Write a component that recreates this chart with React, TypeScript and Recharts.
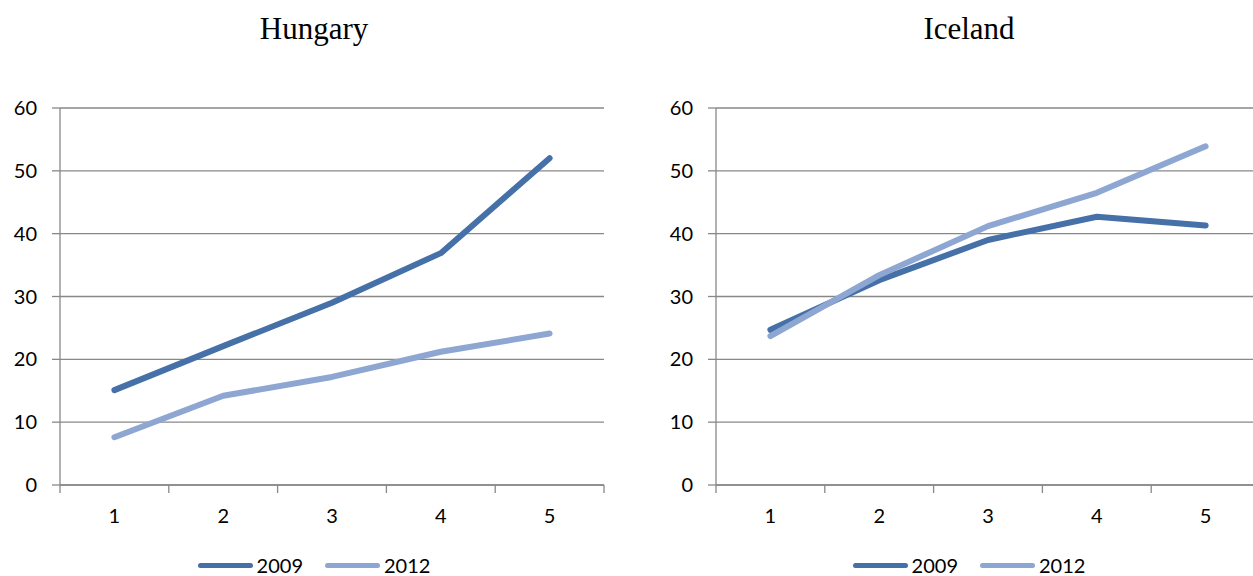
import React from "react";
import { LineChart, Line, XAxis, YAxis, CartesianGrid } from "recharts";

// survey points 1..5, values per country and year
const categories = [1, 2, 3, 4, 5];
const hungary2009 = [15.1, 22.1, 29.0, 36.9, 52.0];
const hungary2012 = [7.6, 14.2, 17.2, 21.2, 24.1];
const iceland2009 = [24.7, 32.6, 39.0, 42.7, 41.3];
const iceland2012 = [23.7, 33.4, 41.2, 46.5, 53.9];
const yTicks = [0, 10, 20, 30, 40, 50, 60];
// band edges carry the tick marks, band centres carry the labels
const xTicks = [0.5, 1, 1.5, 2, 2.5, 3, 3.5, 4, 4.5, 5, 5.5];

const DARK = "#4570A8";
const LIGHT = "#8DA7D2";
const GRID = "#888888";
const SANS = "Lato, 'Liberation Sans', sans-serif";

const series = [
  { key: "y2009", name: "2009", color: DARK },
  { key: "y2012", name: "2012", color: LIGHT },
];

function rows(a, b) {
  return categories.map((c, i) => ({ x: c, y2009: a[i], y2012: b[i] }));
}

function XTick(props) {
  const { x, y, payload } = props;
  if (Number.isInteger(payload.value)) {
    return (
      <text x={x} y={y + 38} textAnchor="middle" fill="#000" fontSize={20} fontFamily={SANS}>
        {payload.value}
      </text>
    );
  }
  return <line x1={x} x2={x} y1={y} y2={y + 8} stroke={GRID} strokeWidth={1.3} />;
}

function Panel({ title, data, left, titleX }) {
  return (
    <>
      <div
        style={{
          position: "absolute",
          left: titleX - 150,
          width: 300,
          top: 13,
          textAlign: "center",
          fontFamily: "'Liberation Serif', 'Times New Roman', serif",
          fontSize: 31,
          lineHeight: "31px",
          color: "#000",
        }}
      >
        {title}
      </div>
      <div style={{ position: "absolute", left, top: 0 }}>
        <LineChart width={630} height={576} data={data} margin={{ top: 108, right: 26, left: 0, bottom: 51 }}>
          <CartesianGrid vertical={false} stroke={GRID} strokeWidth={1.3} />
          <XAxis
            dataKey="x"
            type="number"
            domain={[0.5, 5.5]}
            ticks={xTicks}
            interval={0}
            tickLine={false}
            tickSize={0}
            tickMargin={0}
            height={40}
            axisLine={{ stroke: GRID, strokeWidth: 1.3 }}
            tick={<XTick />}
          />
          <YAxis
            domain={[0, 60]}
            ticks={yTicks}
            interval={0}
            width={60}
            tickSize={8}
            tickMargin={15}
            axisLine={{ stroke: GRID, strokeWidth: 1.3 }}
            tickLine={{ stroke: GRID, strokeWidth: 1.3 }}
            tick={{ fill: "#000", fontSize: 20, fontFamily: SANS }}
          />
          {series.map((s) => (
            <Line
              key={s.key}
              type="linear"
              dataKey={s.key}
              name={s.name}
              stroke={s.color}
              strokeWidth={6}
              strokeLinecap="round"
              strokeLinejoin="round"
              dot={false}
              isAnimationActive={false}
            />
          ))}
        </LineChart>
      </div>
      <div
        style={{
          position: "absolute",
          left: titleX - 200,
          width: 400,
          top: 555,
          display: "flex",
          justifyContent: "center",
          alignItems: "center",
          gap: 22,
          fontFamily: SANS,
          fontSize: 20,
          lineHeight: "20px",
        }}
      >
        {series.map((s) => (
          <div key={s.key} style={{ display: "flex", alignItems: "center", gap: 4 }}>
            <span style={{ display: "inline-block", width: 55, height: 5, borderRadius: 3, background: s.color }} />
            <span>{s.name}</span>
          </div>
        ))}
      </div>
    </>
  );
}

export default function App() {
  return (
    <div
      style={{
        position: "fixed",
        left: 0,
        top: 0,
        width: 1253,
        height: 576,
        overflow: "hidden",
        background: "#fff",
      }}
    >
      <Panel title="Hungary" data={rows(hungary2009, hungary2012)} left={0} titleX={314} />
      <Panel title="Iceland" data={rows(iceland2009, iceland2012)} left={656} titleX={969} />
    </div>
  );
}
